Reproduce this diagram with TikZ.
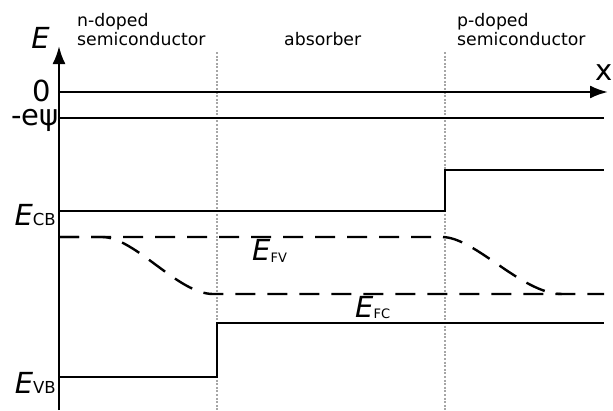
\documentclass[tikz,border=0pt]{standalone}
\usepackage{fontspec}
\setmainfont{DejaVu Sans}
\usetikzlibrary{arrows.meta}
\tikzset{
  band/.style={line width=2.4pt, black},
  fermi/.style={line width=2.4pt, black, dash pattern=on 20pt off 12pt},
  border/.style={line width=2.2pt, gray!70, dash pattern=on 2pt off 1.6pt},
  axis/.style={line width=2.4pt, black, -{Latex[length=18pt,width=13pt]}},
  region/.style={inner sep=0pt, align=left, font=\fontsize{17.3pt}{19pt}\selectfont},
  biglab/.style={inner sep=0pt, font=\fontsize{29pt}{32pt}\selectfont},
}
\begin{document}
\begin{tikzpicture}[x=1pt,y=-1pt]
\useasboundingbox (0,0) rectangle (613,410);
% region borders
\coordinate (b1t) at (217,52); \coordinate (b1b) at (217,410);
\coordinate (b2t) at (445,52); \coordinate (b2b) at (445,410);
\draw[border] (b1t) -- (b1b);
\draw[border] (b2t) -- (b2b);
% axes
\coordinate (o) at (59,410);
\coordinate (etop) at (59,46);
\coordinate (zl) at (59,92); \coordinate (zr) at (608,92);
\draw[axis] (o) -- (etop);
\draw[axis] (zl) -- (zr);
% -e psi level
\coordinate (pl) at (59,118); \coordinate (pr) at (604,118);
\draw[band] (pl) -- (pr);
% conduction band
\coordinate (cb1) at (59,211); \coordinate (cb2) at (445,211);
\coordinate (cb3) at (445,170); \coordinate (cb4) at (604,170);
\draw[band] (cb1) -- (cb2) -- (cb3) -- (cb4);
% valence band
\coordinate (vb1) at (59,377); \coordinate (vb2) at (217,377);
\coordinate (vb3) at (217,323); \coordinate (vb4) at (604,323);
\draw[band] (vb1) -- (vb2) -- (vb3) -- (vb4);
% quasi-Fermi levels
\draw[fermi] (59,237) -- (102,237) .. controls (135,237) and (178,294) .. (213,294) -- (604,294);
\draw[fermi] (59,237) -- (442,237) .. controls (475,237) and (522,294) .. (562,294);
% labels
\node[biglab, anchor=base east] (elab) at (50,48) {\textit{E}};
\node[biglab, anchor=base east] (xlab) at (613,80) {x};
\node[biglab, anchor=base east] (zero) at (51,101) {0};
\node[biglab, anchor=base east] (psi) at (59,125) {-eψ};
\node[biglab, anchor=base east] (ecb) at (56,225) {\textit{E}{\fontsize{16.5pt}{17pt}\selectfont CB}};
\node[biglab, anchor=base east] (evb) at (56,393) {\textit{E}{\fontsize{16.5pt}{17pt}\selectfont VB}};
\node[biglab, anchor=base west] (efv) at (252,260) {\textit{E}\raisebox{-2pt}{\fontsize{13pt}{14pt}\selectfont FV}};
\node[biglab, anchor=base west] (efc) at (355,317) {\textit{E}\raisebox{-1pt}{\fontsize{13pt}{14pt}\selectfont FC}};
\node[region, anchor=north west] (nd) at (77,13) {n-doped\\semiconductor};
\node[region, anchor=base west] (ab) at (284,45) {absorber};
\node[region, anchor=north west] (pd) at (457,13) {p-doped\\semiconductor};
\end{tikzpicture}
\end{document}
